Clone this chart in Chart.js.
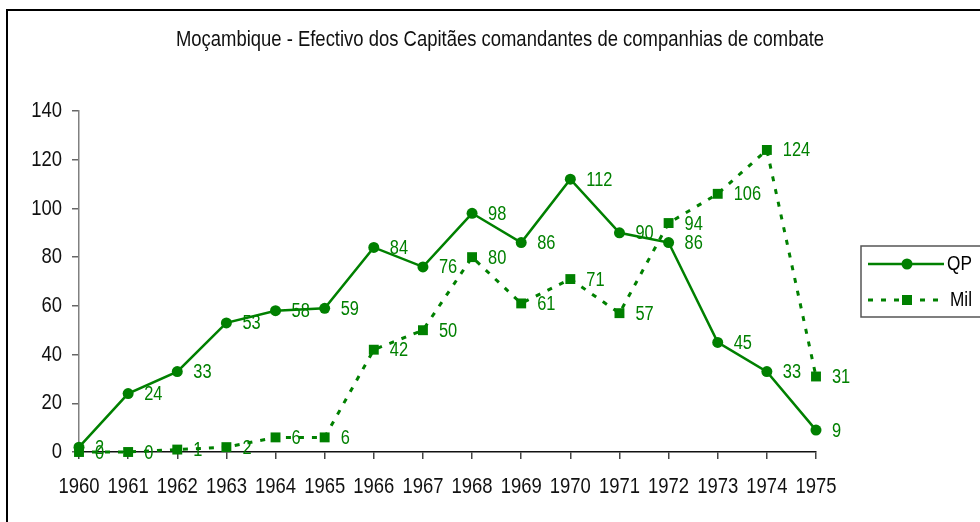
<!DOCTYPE html>
<html>
<head>
<meta charset="utf-8">
<script src="https://cdn.jsdelivr.net/npm/chart.js@4/dist/chart.umd.min.js"></script>
<style>
html,body{margin:0;padding:0;background:#fff;}
#wrap{width:980px;height:522px;position:relative;}
</style>
</head>
<body>
<div id="wrap"><canvas id="c" width="980" height="522"></canvas></div>
<script>
const categories = ["1960","1961","1962","1963","1964","1965","1966","1967","1968","1969","1970","1971","1972","1973","1974","1975"];
const qpValues  = [2, 24, 33, 53, 58, 59, 84, 76, 98, 86, 112, 90, 86, 45, 33, 9];
const milValues = [0, 0, 1, 2, 6, 6, 42, 50, 80, 61, 71, 57, 94, 106, 124, 31];
const seriesNames = ["QP", "Mil"];
const chartTitle = "Moçambique - Efectivo dos Capitães comandantes de companhias de combate";

const FONT = "'Liberation Sans', Arial, sans-serif";
const GREEN = "#008000";
const NARROW = 0.82; // horizontal compression to mimic a narrow face

const canvas = document.getElementById('c');
const ctx0 = canvas.getContext('2d');
const origFillText = ctx0.fillText.bind(ctx0);
ctx0.fillText = function(text, x, y, maxWidth) {
  this.save();
  this.translate(x, y);
  this.scale(NARROW, 1);
  if (maxWidth !== undefined) origFillText(text, 0, 0, maxWidth / NARROW);
  else origFillText(text, 0, 0);
  this.restore();
};

const frame = {
  id: 'frame',
  beforeDraw(chart) {
    const ctx = chart.ctx;
    ctx.save();
    ctx.fillStyle = '#fff';
    ctx.fillRect(0, 0, chart.width, chart.height);
    ctx.strokeStyle = '#000';
    ctx.lineWidth = 2;
    ctx.strokeRect(7, 10, chart.width + 10, chart.height + 10);
    ctx.restore();
  }
};

const valueLabels = {
  id: 'valueLabels',
  afterDatasetsDraw(chart) {
    const ctx = chart.ctx;
    ctx.save();
    ctx.font = "20px " + FONT;
    ctx.fillStyle = GREEN;
    ctx.textAlign = 'left';
    ctx.textBaseline = 'middle';
    chart.data.datasets.forEach((ds, di) => {
      const meta = chart.getDatasetMeta(di);
      meta.data.forEach((pt, i) => {
        ctx.fillText(String(ds.data[i]), pt.x + 16, pt.y + 1);
      });
    });
    ctx.restore();
  }
};

const boxLegend = {
  id: 'boxLegend',
  afterDraw(chart) {
    const ctx = chart.ctx;
    ctx.save();
    ctx.strokeStyle = '#555';
    ctx.lineWidth = 1.5;
    ctx.strokeRect(861, 246, 140, 71);
    const rows = [
      {y: 264, ds: chart.data.datasets[0]},
      {y: 300, ds: chart.data.datasets[1]}
    ];
    rows.forEach((r, idx) => {
      ctx.strokeStyle = GREEN;
      ctx.fillStyle = GREEN;
      ctx.lineWidth = r.ds.borderWidth;
      ctx.setLineDash(r.ds.borderDash || []);
      ctx.beginPath();
      ctx.moveTo(868, r.y);
      ctx.lineTo(idx === 0 ? 944 : 940, r.y);
      ctx.stroke();
      ctx.setLineDash([]);
      if (idx === 0) {
        ctx.beginPath();
        ctx.arc(907, r.y, 5.5, 0, Math.PI * 2);
        ctx.fill();
      } else {
        ctx.fillRect(902, r.y - 5, 10, 10);
      }
      ctx.fillStyle = '#000';
      ctx.font = "21px " + FONT;
      ctx.textAlign = 'left';
      ctx.textBaseline = 'middle';
      ctx.fillText(r.ds.label, idx === 0 ? 947 : 950, r.y);
    });
    ctx.restore();
  }
};

new Chart(canvas, {
  type: 'line',
  data: {
    labels: categories,
    datasets: [
      {
        label: seriesNames[0],
        data: qpValues,
        borderColor: GREEN,
        backgroundColor: GREEN,
        borderWidth: 2.5,
        pointStyle: 'circle',
        pointRadius: 5.5,
        pointHoverRadius: 5.5,
        pointBorderWidth: 0,
        tension: 0,
        clip: false
      },
      {
        label: seriesNames[1],
        data: milValues,
        borderColor: GREEN,
        backgroundColor: GREEN,
        borderWidth: 3,
        borderDash: [5, 8],
        pointStyle: 'rect',
        pointRadius: 7,
        pointHoverRadius: 7,
        pointBorderWidth: 0,
        tension: 0,
        clip: false
      }
    ]
  },
  options: {
    responsive: false,
    animation: false,
    devicePixelRatio: 1,
    layout: { padding: { left: 20, right: 0, top: 0, bottom: 0 } },
    plugins: {
      legend: { display: false },
      tooltip: { enabled: false },
      title: {
        display: true,
        text: chartTitle,
        color: '#111',
        font: { family: FONT, size: 22.5, weight: 'normal', lineHeight: 1.2 },
        padding: { top: 26, bottom: 58 }
      }
    },
    scales: {
      x: {
        type: 'category',
        offset: false,
        grid: { display: true, drawOnChartArea: false, drawTicks: true, tickLength: 7, color: '#444', lineWidth: 1.5 },
        border: { display: true, color: '#111', width: 1.5 },
        ticks: { color: '#111', font: { family: FONT, size: 22.5 }, padding: 14, maxRotation: 0, minRotation: 0, autoSkip: false },
        afterFit(scale) { scale.height = 70; }
      },
      y: {
        min: 0,
        max: 140,
        ticks: { stepSize: 20, color: '#111', font: { family: FONT, size: 22.5 }, padding: 10 },
        grid: { display: true, drawOnChartArea: false, drawTicks: true, tickLength: 7, color: '#666', lineWidth: 1.5 },
        border: { display: true, color: '#808080', width: 1.5 },
        afterFit(scale) { scale.width = 59; }
      },
      yRight: {
        position: 'right',
        display: true,
        min: 0,
        max: 140,
        ticks: { display: false },
        grid: { display: false, drawOnChartArea: false, drawTicks: false },
        border: { display: false },
        afterFit(scale) { scale.width = 164; }
      }
    }
  },
  plugins: [frame, valueLabels, boxLegend]
});
</script>
</body>
</html>
